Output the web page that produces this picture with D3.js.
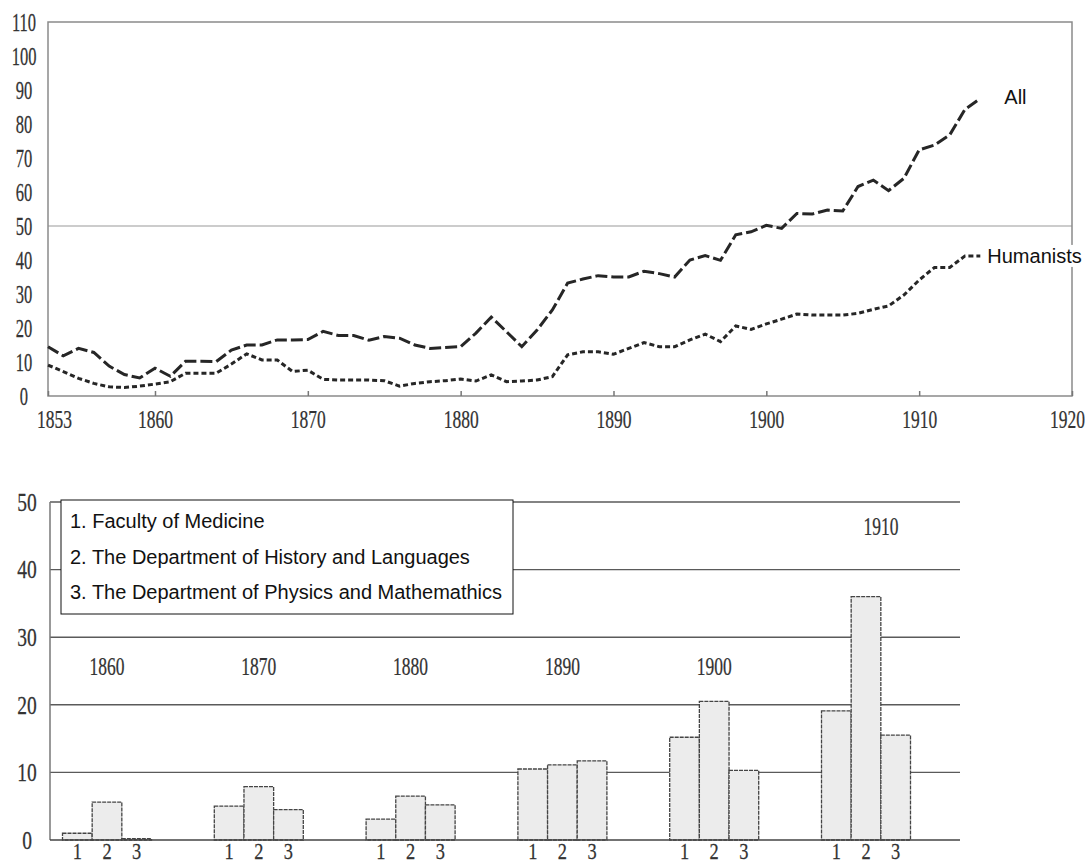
<!DOCTYPE html>
<html>
<head>
<meta charset="utf-8">
<script src="https://cdn.jsdelivr.net/npm/d3@7"></script>
<style>
  body { margin: 0; background: #fff; }
  svg { display: block; }
</style>
</head>
<body>
<script>
// top chart: number of students per year (1853-1914)
var firstYear = 1853;
var allStudents = [
  14.5, 11.8, 14, 12.8, 8.8, 6.3, 5.3, 8.2, 5.8, 10.2, 10.2, 10.1, 13.5, 15, 15, 16.5, 16.5, 16.6, 19, 17.8, 17.8, 16.4,
  17.5, 17, 15, 14, 14.3, 14.5, 18.5, 23.2, 18.9, 14.5, 19.4, 25.3, 33.2, 34.4, 35.4, 35, 35, 36.7, 36, 35, 40, 41.3, 39.9,
  47.4, 48.3, 50.2, 49.3, 53.7, 53.5, 54.7, 54.4, 61.6, 63.5, 60.4, 64, 72.4, 73.8, 76.8, 84.3, 87.5
];
var humanists = [
  9.1, 7.2, 5.2, 3.7, 2.7, 2.5, 2.9, 3.5, 4.2, 6.7, 6.7, 6.7, 9.4, 12.4, 10.6, 10.6, 7.2, 7.6, 4.9, 4.7, 4.7, 4.7,
  4.5, 2.9, 3.7, 4.2, 4.5, 5.0, 4.4, 6.2, 4.2, 4.4, 4.7, 5.7, 12.1, 13.0, 13.0, 12.3, 14.0, 15.7, 14.5, 14.5, 16.5, 18.2, 16.0,
  20.6, 19.6, 21.2, 22.6, 24.1, 23.8, 23.8, 23.8, 24.3, 25.5, 26.5, 29.7, 34.1, 37.8, 37.8, 41.2, 41.2
];
var yearTicks = [1853, 1860, 1870, 1880, 1890, 1900, 1910, 1920];
var topValueTicks = [0, 10, 20, 30, 40, 50, 60, 70, 80, 90, 100, 110];

// bottom chart: by faculty, every ten years
var decades = ["1860", "1870", "1880", "1890", "1900", "1910"];
var facultyKeys = ["1", "2", "3"];
var medicineVals = [1.0, 5.0, 3.1, 10.5, 15.2, 19.1];
var historyVals = [5.6, 7.9, 6.5, 11.1, 20.5, 36.0];
var physicsVals = [0.2, 4.5, 5.2, 11.7, 10.3, 15.5];
var bottomValueTicks = [0, 10, 20, 30, 40, 50];
var legendLabels = [
  "1. Faculty of Medicine",
  "2. The Department of History and Languages",
  "3. The Department of Physics and Mathemathics"
];

var numFont = "'Liberation Serif', 'DejaVu Serif', serif";
var textFont = "'Liberation Sans', Arial, sans-serif";
var inkGrey = "#333";

var svg = d3.select("body").append("svg").attr("width", 1092).attr("height", 865);
svg.append("rect").attr("width", 1092).attr("height", 865).attr("fill", "#fff");

// squeeze the old condensed numerals: scale x around the anchor point
function narrow(sel, sx, size) {
  sel.each(function () {
    var t = d3.select(this);
    var px = +t.attr("x") || 0, py = +t.attr("y") || 0;
    t.attr("font-family", numFont).attr("font-size", size || 25).attr("fill", inkGrey)
      .attr("stroke", inkGrey).attr("stroke-width", 0.25)
      .attr("transform", "translate(" + px + "," + py + ") scale(" + sx + ",1)")
      .attr("x", 0).attr("y", 0);
  });
}

// ---------- top chart ----------
var x = d3.scaleLinear().domain([1853, 1920]).range([48, 1072]);
var y = d3.scaleLinear().domain([0, 110]).range([396, 22]);

var topChart = svg.append("g");

topChart.append("line")
  .attr("x1", x(1853)).attr("x2", x(1920)).attr("y1", y(50)).attr("y2", y(50))
  .attr("stroke", "#999").attr("stroke-width", 1);

topChart.append("rect")
  .attr("x", x(1853)).attr("y", y(110))
  .attr("width", x(1920) - x(1853)).attr("height", y(0) - y(110))
  .attr("fill", "none").attr("stroke", "#8a8a8a").attr("stroke-width", 1.5);

var xAxis = topChart.append("g").attr("transform", "translate(0," + y(0) + ")")
  .call(d3.axisBottom(x).tickValues(yearTicks).tickFormat(d3.format("d")).tickSize(-5));
xAxis.select(".domain").remove();
xAxis.selectAll(".tick line").attr("stroke", "#777").attr("stroke-width", 1.5);
xAxis.selectAll("text").attr("dy", null)
  .attr("x", function (d) { return d === 1853 ? 6 : (d === 1920 ? -5 : 0); })
  .attr("y", 32)
  .call(narrow, 0.7);

var yAxis = topChart.append("g").attr("transform", "translate(" + x(1853) + ",0)")
  .call(d3.axisLeft(y).tickValues(topValueTicks).tickSize(0));
yAxis.select(".domain").remove();
yAxis.selectAll("text").attr("x", -24).attr("text-anchor", "middle").attr("dy", "0.33em").call(narrow, 0.66);

var line = d3.line()
  .x(function (d, i) { return x(firstYear + i); })
  .y(function (d) { return y(d); });

topChart.append("path").datum(humanists).attr("d", line)
  .attr("fill", "none").attr("stroke", "#262626").attr("stroke-width", 3)
  .attr("stroke-dasharray", "5,3");

topChart.append("path").datum(allStudents).attr("d", line)
  .attr("fill", "none").attr("stroke", "#262626").attr("stroke-width", 3)
  .attr("stroke-dasharray", "12,4");

var lastYear = firstYear + allStudents.length - 1;
var seriesLabels = [
  { name: "All", v: allStudents[allStudents.length - 1], dx: 24, dy: 5 },
  { name: "Humanists", v: humanists[humanists.length - 1], dx: 7, dy: 7 }
];
seriesLabels.forEach(function (s) {
  var g = topChart.append("g");
  var bg = g.append("rect").attr("fill", "#fff");
  var t = g.append("text")
    .attr("x", x(lastYear) + s.dx).attr("y", y(s.v) + s.dy)
    .attr("font-family", textFont).attr("font-size", 20).attr("fill", "#111")
    .text(s.name);
  var b = t.node().getBBox();
  bg.attr("x", b.x - 2).attr("y", b.y).attr("width", b.width + 4).attr("height", b.height);
});

// ---------- bottom chart ----------
var yb = d3.scaleLinear().domain([0, 50]).range([840, 502]);
var xg = d3.scalePoint().domain(decades).range([107, 866]);
var xs = d3.scaleBand().domain(facultyKeys).range([-44.5, 44.5]);

var bottomChart = svg.append("g");

bottomChart.selectAll(".grid").data(bottomValueTicks.slice(1)).enter().append("line")
  .attr("x1", 50).attr("x2", 960)
  .attr("y1", function (d) { return yb(d); }).attr("y2", function (d) { return yb(d); })
  .attr("stroke", "#5a5a5a").attr("stroke-width", 1.4);

bottomChart.append("line").attr("x1", 50).attr("x2", 50).attr("y1", yb(50)).attr("y2", yb(0))
  .attr("stroke", "#777").attr("stroke-width", 1.5);

var ybAxis = bottomChart.append("g").attr("transform", "translate(50,0)")
  .call(d3.axisLeft(yb).tickValues(bottomValueTicks).tickSize(0));
ybAxis.select(".domain").remove();
ybAxis.selectAll("text").attr("x", -23).attr("text-anchor", "middle").attr("dy", "0.33em").call(narrow, 0.78);

var barRows = decades.map(function (d, i) {
  return [
    { decade: d, key: "1", v: medicineVals[i] },
    { decade: d, key: "2", v: historyVals[i] },
    { decade: d, key: "3", v: physicsVals[i] }
  ];
});

var groups = bottomChart.selectAll(".grp").data(barRows).enter().append("g")
  .attr("transform", function (r) { return "translate(" + xg(r[0].decade) + ",0)"; });

groups.selectAll("rect").data(function (r) { return r; }).enter().append("rect")
  .attr("x", function (d) { return xs(d.key); })
  .attr("width", xs.bandwidth())
  .attr("y", function (d) { return yb(d.v); })
  .attr("height", function (d) { return yb(0) - yb(d.v); })
  .attr("fill", "#ececec").attr("stroke", "#444").attr("stroke-width", 1.3)
  .attr("stroke-dasharray", "4,1");

groups.selectAll(".key").data(function (r) { return r; }).enter().append("text")
  .attr("x", function (d) { return xs(d.key) + xs.bandwidth() / 2; })
  .attr("y", 859).attr("text-anchor", "middle")
  .text(function (d) { return d.key; })
  .call(narrow, 0.8, 23);

bottomChart.append("line").attr("x1", 50).attr("x2", 960).attr("y1", yb(0)).attr("y2", yb(0))
  .attr("stroke", "#444").attr("stroke-width", 1.6);

// decade captions; the last one sits above the tall bar
groups.append("text")
  .attr("x", function (r, i) { return i === decades.length - 1 ? 15 : 0; })
  .attr("y", function (r, i) { return i === decades.length - 1 ? 535 : 675; })
  .attr("text-anchor", "middle")
  .text(function (r) { return r[0].decade; })
  .call(narrow, 0.7);

// legend
var legend = bottomChart.append("g");
legend.append("rect").attr("x", 61).attr("y", 500).attr("width", 452).attr("height", 114)
  .attr("fill", "#fff").attr("stroke", "#111").attr("stroke-width", 1);
legend.selectAll("text").data(legendLabels).enter().append("text")
  .attr("x", 70).attr("y", function (d, i) { return 528 + i * 35.5; })
  .attr("font-family", textFont).attr("font-size", 20).attr("fill", "#111")
  .text(function (d) { return d; });
</script>
</body>
</html>
